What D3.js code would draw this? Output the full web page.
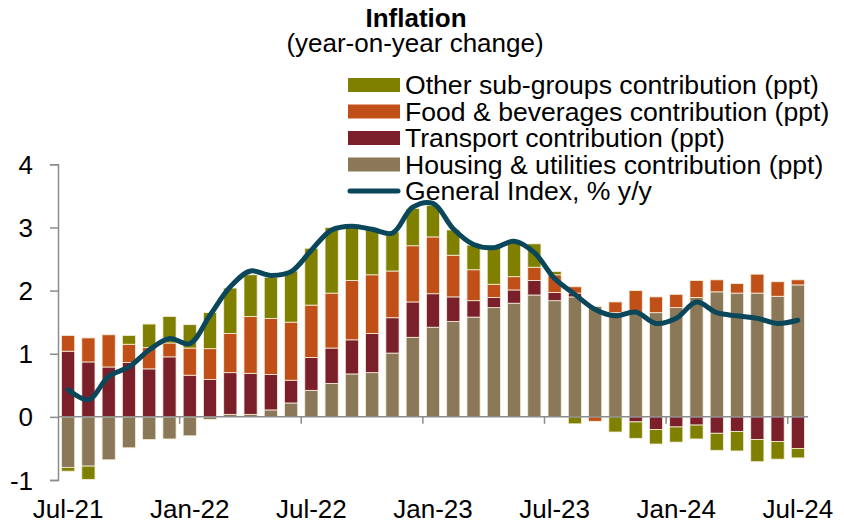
<!DOCTYPE html>
<html>
<head>
<meta charset="utf-8">
<script src="https://cdn.jsdelivr.net/npm/d3@7"></script>
<style>
  body { margin: 0; background: #fff; }
  text { font-family: "Liberation Sans", Arial, sans-serif; fill: #000; }
</style>
</head>
<body>
<div id="chart"></div>
<script>
var months = ["Jul-21", "Aug-21", "Sep-21", "Oct-21", "Nov-21", "Dec-21",
    "Jan-22", "Feb-22", "Mar-22", "Apr-22", "May-22", "Jun-22",
    "Jul-22", "Aug-22", "Sep-22", "Oct-22", "Nov-22", "Dec-22",
    "Jan-23", "Feb-23", "Mar-23", "Apr-23", "May-23", "Jun-23",
    "Jul-23", "Aug-23", "Sep-23", "Oct-23", "Nov-23", "Dec-23",
    "Jan-24", "Feb-24", "Mar-24", "Apr-24", "May-24", "Jun-24", "Jul-24"];

var housing = [-0.80, -0.78, -0.68, -0.49, -0.36, -0.35, -0.30, -0.04, 0.04, 0.04, 0.11, 0.22,
    0.42, 0.53, 0.68, 0.70, 1.01, 1.26, 1.42, 1.51, 1.58, 1.73, 1.80, 1.93,
    1.84, 1.90, 1.75, 1.65, 1.64, 1.65, 1.73, 1.89, 1.98, 1.96, 1.96, 1.91, 2.09];

var transport = [1.04, 0.87, 0.79, 0.86, 0.76, 0.95, 0.66, 0.59, 0.66, 0.65, 0.56, 0.36,
    0.52, 0.56, 0.54, 0.62, 0.56, 0.56, 0.53, 0.39, 0.26, 0.16, 0.21, 0.23,
    0.13, 0.06, 0, 0, -0.08, -0.20, -0.16, -0.13, -0.26, -0.23, -0.36, -0.39, -0.50];

var food = [0.25, 0.38, 0.51, 0.29, 0.34, 0.22, 0.43, 0.49, 0.62, 0.90, 0.89, 0.92,
    0.83, 0.87, 0.94, 0.93, 0.74, 0.89, 0.90, 0.66, 0.49, 0.21, 0.21, 0.21,
    0.28, 0.10, -0.07, 0.17, 0.36, 0.25, 0.21, 0.27, 0.19, 0.15, 0.30, 0.23, 0.08];

var other = [-0.06, -0.21, 0, 0.14, 0.37, 0.42, 0.37, 0.57, 0.72, 0.66, 0.65, 0.81,
    0.90, 1.04, 0.88, 0.74, 0.62, 0.59, 0.50, 0.40, 0.39, 0.58, 0.55, 0.37,
    0.05, -0.11, 0, -0.24, -0.26, -0.23, -0.24, -0.22, -0.27, -0.31, -0.35, -0.28, -0.15];

var general = [0.43, 0.27, 0.64, 0.79, 1.06, 1.24, 1.16, 1.61, 2.06, 2.31, 2.24, 2.30,
    2.64, 2.96, 3.02, 2.97, 2.91, 3.32, 3.38, 2.98, 2.73, 2.68, 2.78, 2.60,
    2.19, 1.94, 1.70, 1.60, 1.66, 1.48, 1.56, 1.82, 1.65, 1.60, 1.56, 1.48, 1.53];

var tickLabels = ["Jul-21", "Jan-22", "Jul-22", "Jan-23", "Jul-23", "Jan-24", "Jul-24"];
var yTicks = [-1, 0, 1, 2, 3, 4];

var keys = ["housing", "transport", "food", "other"],
    colors = {
        housing: "#8b7858",
        transport: "#7b1f2a",
        food: "#c05018",
        other: "#808000"
    },
    lineColor = "#0b475a",
    width = 844,
    height = 528,
    fontSize = 26;

var legendItems = [
    { key: "other", label: "Other sub-groups contribution (ppt)" },
    { key: "food", label: "Food & beverages contribution (ppt)" },
    { key: "transport", label: "Transport contribution (ppt)" },
    { key: "housing", label: "Housing & utilities contribution (ppt)" },
    { key: "line", label: "General Index, % y/y" }
];

var table = months.map(function (m, i) {
    return { month: m, housing: housing[i], transport: transport[i], food: food[i], other: other[i] };
});

var svg = d3.select("#chart")
    .append("svg")
    .attr("width", width)
    .attr("height", height);

var xScale = d3.scaleBand()
    .domain(months)
    .range([58, 808])
    .paddingInner(0.35)
    .paddingOuter(0.175);

var yScale = d3.scaleLinear()
    .domain([-1, 4])
    .range([480, 164.3]);

var series = d3.stack()
    .keys(keys)
    .offset(d3.stackOffsetDiverging)(table);

// bars
svg.append("g")
    .selectAll("g")
    .data(series)
    .join("g")
    .attr("fill", function (s) { return colors[s.key]; })
    .selectAll("rect")
    .data(function (s) { return s; })
    .join("rect")
    .attr("x", function (d) { return xScale(d.data.month); })
    .attr("width", xScale.bandwidth())
    .attr("y", function (d) { return yScale(Math.max(d[0], d[1])); })
    .attr("height", function (d) { return Math.abs(yScale(d[0]) - yScale(d[1])); })
    .attr("stroke", "#f4f0dc")
    .attr("stroke-width", 0.8);

// y axis
var yAxis = svg.append("g")
    .attr("transform", "translate(58,0)")
    .call(d3.axisLeft(yScale)
        .tickValues(yTicks)
        .tickFormat(function (d) { return String(d); })
        .tickSize(8)
        .tickPadding(17));
yAxis.selectAll("path, line").attr("stroke", "#8c8c8c").attr("stroke-width", 1.5);
yAxis.selectAll("text")
    .style("font-size", fontSize + "px")
    .style("font-family", "'Liberation Sans', Arial, sans-serif")
    .attr("fill", "#000")
    .attr("dy", "0.35em");

// zero line with tick marks between categories every 6 months
var step = xScale.step();
svg.append("line")
    .attr("x1", 58)
    .attr("x2", 808)
    .attr("y1", yScale(0))
    .attr("y2", yScale(0))
    .attr("stroke", "#8c8c8c")
    .attr("stroke-width", 1.5);

svg.append("g")
    .selectAll("line")
    .data(tickLabels.slice(1))
    .join("line")
    .attr("x1", function (m) { return xScale(m) + xScale.bandwidth() / 2 - step / 2; })
    .attr("x2", function (m) { return xScale(m) + xScale.bandwidth() / 2 - step / 2; })
    .attr("y1", yScale(0))
    .attr("y2", yScale(0) + 7)
    .attr("stroke", "#8c8c8c")
    .attr("stroke-width", 1.5);

// x labels at the bottom
var xAxis = svg.append("g")
    .attr("transform", "translate(0," + yScale(-1) + ")")
    .call(d3.axisBottom(xScale)
        .tickValues(tickLabels)
        .tickSize(0)
        .tickPadding(20));
xAxis.select(".domain").remove();
xAxis.selectAll("text")
    .style("font-size", fontSize + "px")
    .style("font-family", "'Liberation Sans', Arial, sans-serif")
    .attr("fill", "#000");

// general index line
var line = d3.line()
    .x(function (d, i) { return xScale(months[i]) + xScale.bandwidth() / 2; })
    .y(function (d) { return yScale(d); })
    .curve(d3.curveCatmullRom.alpha(0.5));

svg.append("path")
    .datum(general)
    .attr("fill", "none")
    .attr("stroke", lineColor)
    .attr("stroke-width", 5)
    .attr("stroke-linecap", "round")
    .attr("stroke-linejoin", "round")
    .attr("d", line);

// title
svg.append("text")
    .attr("x", 416)
    .attr("y", 27)
    .attr("text-anchor", "middle")
    .style("font-size", fontSize + "px")
    .style("font-weight", "bold")
    .text("Inflation");

svg.append("text")
    .attr("x", 415)
    .attr("y", 52)
    .attr("text-anchor", "middle")
    .style("font-size", fontSize + "px")
    .text("(year-on-year change)");

// legend
var legend = svg.append("g")
    .selectAll("g")
    .data(legendItems)
    .join("g")
    .attr("transform", function (d, i) { return "translate(348," + (94 + i * 26.5) + ")"; });

legend.filter(function (d) { return d.key !== "line"; })
    .append("rect")
    .attr("x", 0)
    .attr("y", -16)
    .attr("width", 52)
    .attr("height", 14)
    .attr("fill", function (d) { return colors[d.key]; });

legend.filter(function (d) { return d.key === "line"; })
    .append("line")
    .attr("x1", 2)
    .attr("x2", 50)
    .attr("y1", -9)
    .attr("y2", -9)
    .attr("stroke", lineColor)
    .attr("stroke-width", 5)
    .attr("stroke-linecap", "round");

legend.append("text")
    .attr("x", 57)
    .attr("y", 0)
    .style("font-size", "26.6px")
    .text(function (d) { return d.label; });
</script>
</body>
</html>
